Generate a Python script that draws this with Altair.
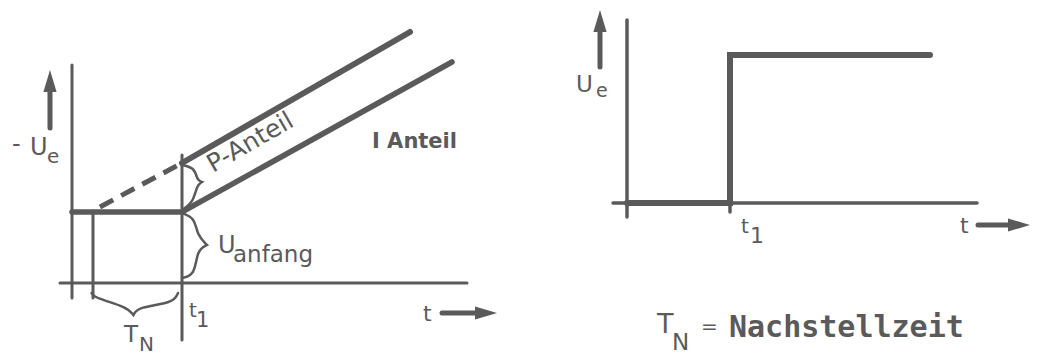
import altair as alt
import pandas as pd

INK = "#5a5a5a"

# ---------------- left panel: PI controller response (-U_a over t) ----------------
L_OUT_T = [0.0, 5.5, 19.0]          # plateau (U_anfang) then I-Anteil ramp
L_OUT_U = [3.55, 3.55, 11.05]
L_P_T = [5.5, 16.9]                 # P-Anteil line
L_P_U = [6.0, 12.55]
L_DASH_T = [1.4, 5.5]               # extrapolation back to t1 - T_N
L_DASH_U = [3.8, 6.0]

# thin segments: y axis, x axis, T_N start marker, t1 marker
L_THIN_T = [0.0, -0.6, 1.05, 5.5]
L_THIN_U = [-0.75, 0.0, -0.75, -2.85]
L_THIN_T2 = [0.0, 19.75, 1.05, 5.5]
L_THIN_U2 = [10.9, 0.0, 3.55, 6.4]

# arrow shafts (y arrow, t arrow) and heads
L_SHAFT_T = [-1.1, 18.5]
L_SHAFT_U = [7.75, -1.5]
L_SHAFT_T2 = [-1.1, 20.4]
L_SHAFT_U2 = [9.7, -1.5]
L_HEAD_UP = (-1.1, 10.65)
L_HEAD_RIGHT = (21.25, -1.5)

# braces
BR_UANF_T = [5.5, 6.15, 6.25, 6.75, 6.75, 6.75, 6.25, 6.15, 5.5]
BR_UANF_U = [3.5, 3.25, 2.4, 1.9, 1.9, 1.9, 1.65, 0.4, 0.25]
BR_P_T = [5.5, 6.15, 6.25, 6.5, 6.5, 6.5, 6.25, 6.05, 5.5]
BR_P_U = [5.9, 5.75, 5.15, 5.05, 5.05, 5.05, 4.9, 4.0, 3.65]
BR_TN_T = [0.98, 1.15, 2.75, 3.07, 3.07, 3.07, 3.3, 5.07, 5.3]
BR_TN_U = [-0.5, -0.75, -1.2, -1.6, -1.6, -1.6, -1.2, -1.0, -0.5]

L_LABEL_TEXT = ["-", "U", "e", "U", "anfang", "t", "1", "T", "N", "t"]
L_LABEL_T = [-3.0, -2.1, -1.25, 7.3, 8.05, 5.85, 6.2, 2.6, 3.35, 17.55]
L_LABEL_U = [6.55, 6.4, 6.0, 1.5, 1.05, -1.7, -2.2, -2.95, -3.4, -1.9]
L_LABEL_SIZE = [24, 24, 20, 24, 23, 20, 21, 23, 20, 22]

# ---------------- right panel: input step U_e ----------------
R_STEP_T = [0.0, 5.15, 5.15, 15.15]
R_STEP_U = [0.0, 0.0, 7.4, 7.4]

R_THIN_T = [0.0, -0.7, 5.15]
R_THIN_U = [-0.7, 0.0, -0.45]
R_THIN_T2 = [0.0, 17.5, 5.15]
R_THIN_U2 = [9.15, 0.0, 0.0]

R_SHAFT_T = [-1.35, 17.55]
R_SHAFT_U = [6.8, -1.1]
R_SHAFT_T2 = [-1.35, 19.2]
R_SHAFT_U2 = [8.7, -1.1]
R_HEAD_UP = (-1.35, 9.65)
R_HEAD_RIGHT = (20.15, -1.1)

R_LABEL_TEXT = ["U", "e", "t", "1", "t", "T", "N", "="]
R_LABEL_T = [-2.55, -1.55, 5.7, 6.15, 16.65, 1.5, 2.25, 3.7]
R_LABEL_U = [5.55, 5.3, -1.5, -2.0, -1.5, -6.5, -7.35, -6.5]
R_LABEL_SIZE = [23, 19, 20, 22, 22, 27, 23, 20]

UP_PATH = "M0,0L0.3,1L-0.3,1Z"
RIGHT_PATH = "M0,0L-1,0.3L-1,-0.3Z"


def xs(domain):
    return alt.Scale(domain=domain, nice=False, zero=False)


def panel(width, height, layers):
    return alt.layer(*layers).properties(width=width, height=height)


def enc_xy(xdom, ydom):
    return dict(
        x=alt.X("t:Q", scale=xs(xdom), axis=None),
        y=alt.Y("u:Q", scale=xs(ydom), axis=None),
    )


def seg_layer(t, u, t2, u2, width, xdom, ydom):
    df = pd.DataFrame({"t": t, "u": u, "t2": t2, "u2": u2})
    return alt.Chart(df).mark_rule(color=INK, strokeWidth=width, strokeCap="round").encode(
        x2="t2:Q", y2="u2:Q", **enc_xy(xdom, ydom)
    )


def line_layer(t, u, width, xdom, ydom, dash=None, interp="linear"):
    df = pd.DataFrame({"t": t, "u": u, "i": list(range(len(t)))})
    kw = dict(color=INK, strokeWidth=width, strokeJoin="miter", strokeCap="round", interpolate=interp)
    if dash:
        kw["strokeDash"] = dash
        kw["strokeCap"] = "butt"
    return alt.Chart(df).mark_line(**kw).encode(order="i:Q", **enc_xy(xdom, ydom))


def head_layer(pt, path, xdom, ydom):
    df = pd.DataFrame({"t": [pt[0]], "u": [pt[1]]})
    return alt.Chart(df).mark_point(
        shape=path, size=1936, filled=True, color=INK, opacity=1, strokeWidth=0
    ).encode(**enc_xy(xdom, ydom))


def text_layer(text, t, u, size, xdom, ydom, font="DejaVu Sans", weight="normal", angle=0):
    df = pd.DataFrame({"t": t, "u": u, "text": text, "size": size})
    return alt.Chart(df).mark_text(
        align="left", baseline="alphabetic", font=font, fontWeight=weight, color=INK, angle=angle
    ).encode(text="text:N", size=alt.Size("size:Q", scale=None), **enc_xy(xdom, ydom))


LX, LY = [-3.2, 22.3], [-3.3, 13.75]
left = panel(510, 341, [
    seg_layer(L_THIN_T, L_THIN_U, L_THIN_T2, L_THIN_U2, 3, LX, LY),
    seg_layer(L_SHAFT_T, L_SHAFT_U, L_SHAFT_T2, L_SHAFT_U2, 5, LX, LY),
    head_layer(L_HEAD_UP, UP_PATH, LX, LY),
    head_layer(L_HEAD_RIGHT, RIGHT_PATH, LX, LY),
    line_layer(L_OUT_T, L_OUT_U, 5.5, LX, LY),
    line_layer(L_P_T, L_P_U, 6, LX, LY),
    line_layer(L_DASH_T, L_DASH_U, 5, LX, LY, dash=[15, 9]),
    line_layer(BR_UANF_T, BR_UANF_U, 2.5, LX, LY, interp="basis"),
    line_layer(BR_P_T, BR_P_U, 2.5, LX, LY, interp="basis"),
    line_layer(BR_TN_T, BR_TN_U, 2.5, LX, LY, interp="basis"),
    text_layer(L_LABEL_TEXT, L_LABEL_T, L_LABEL_U, L_LABEL_SIZE, LX, LY),
    text_layer(["P-Anteil"], [7.05], [5.5], [25], LX, LY, angle=330),
    text_layer(["I Anteil"], [15.0], [6.75], [21], LX, LY, weight="bold"),
])

RX, RY = [-4.45, 20.2], [-7.3, 9.75]
right = panel(493, 341, [
    seg_layer(R_THIN_T, R_THIN_U, R_THIN_T2, R_THIN_U2, 3.5, RX, RY),
    seg_layer(R_SHAFT_T, R_SHAFT_U, R_SHAFT_T2, R_SHAFT_U2, 5, RX, RY),
    head_layer(R_HEAD_UP, UP_PATH, RX, RY),
    head_layer(R_HEAD_RIGHT, RIGHT_PATH, RX, RY),
    line_layer(R_STEP_T, R_STEP_U, 6, RX, RY),
    text_layer(R_LABEL_TEXT, R_LABEL_T, R_LABEL_U, R_LABEL_SIZE, RX, RY),
    text_layer(["Nachstellzeit"], [5.1], [-6.7], [30], RX, RY, font="DejaVu Sans Mono", weight="bold"),
])

chart = alt.hconcat(left, right, spacing=20, padding=0, background="white").configure_view(stroke=None)

chart.save("out.html", embed_options={"renderer": "svg", "actions": False})
